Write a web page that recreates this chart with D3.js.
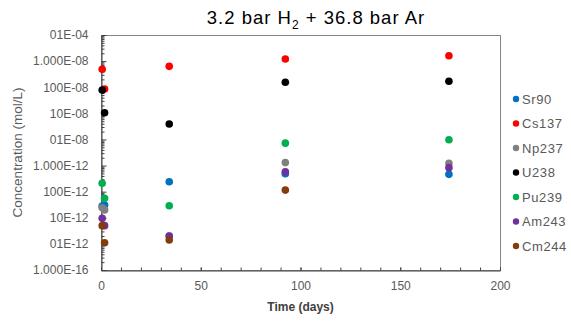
<!DOCTYPE html>
<html>
<head>
<meta charset="utf-8">
<script src="https://cdn.jsdelivr.net/npm/d3@7"></script>
<style>
  body { margin: 0; background: #fff; }
  text { font-family: "Liberation Sans", Arial, sans-serif; }
</style>
</head>
<body>
<div id="chart"></div>
<script>
// sampling days
const days = [0.6, 1.8, 34.2, 92.4, 174.4];

// concentrations (mol/L), null = no point
const sr90  = [2.8e-11, 3.1e-11, 2.4e-10, 4.9e-10, 4.6e-10];
const cs137 = [4.9e-6, 8.5e-7, 6.3e-6, 1.2e-5, 1.6e-5];
const np237 = [2.4e-11, 2.0e-11, 2.0e-12, 1.3e-9, 1.23e-9];
const u238  = [7.8e-7, 1.05e-7, 3.9e-8, 1.55e-6, 1.7e-6];
const pu239 = [2.1e-10, 5.6e-11, 2.9e-11, 7.2e-9, 9.7e-9];
const am243 = [9.5e-12, 5.0e-12, 2.0e-12, 5.8e-10, 8.3e-10];
const cm244 = [5.0e-12, 1.1e-12, 1.4e-12, 1.15e-10, null];

const seriesNames = ["Sr90", "Cs137", "Np237", "U238", "Pu239", "Am243", "Cm244"];
const seriesValues = [sr90, cs137, np237, u238, pu239, am243, cm244];
const seriesColors = ["#0070C0", "#FF0000", "#808080", "#000000", "#00B050", "#7030A0", "#843C0C"];

const yTickValues = [1e-4, 1e-5, 1e-6, 1e-7, 1e-8, 1e-9, 1e-10, 1e-11, 1e-12, 1e-13];
const yTickLabels = ["01E-04", "1.000E-08", "100E-08", "10E-08", "01E-08",
                     "1.000E-12", "100E-12", "10E-12", "01E-12", "1.000E-16"];
const xTickValues = [0, 50, 100, 150, 200];

const W = 571, H = 324;
const plot = { left: 101, right: 500, top: 35, bottom: 270 };

const svg = d3.select("#chart").append("svg")
  .attr("width", W)
  .attr("height", H);

const x = d3.scaleLinear().domain([0, 200]).range([plot.left, plot.right]);
const y = d3.scaleLog().domain([1e-13, 1e-4]).range([plot.bottom, plot.top]);

// plot frame
svg.append("rect")
  .attr("x", plot.left + 0.5)
  .attr("y", plot.top + 0.5)
  .attr("width", plot.right - plot.left)
  .attr("height", plot.bottom - plot.top)
  .attr("fill", "none")
  .attr("stroke", "#868686");

// minor ticks on y (log 2..9)
const yMinor = [];
for (let e = -13; e < -4; e++) {
  for (let m = 2; m <= 9; m++) yMinor.push(m * Math.pow(10, e));
}
svg.append("g")
  .attr("transform", `translate(${plot.left + 0.5},0)`)
  .call(d3.axisLeft(y).tickValues(yMinor).tickSize(-3).tickFormat(""))
  .call(g => g.select(".domain").remove())
  .call(g => g.selectAll("line").attr("stroke", "#404040"));

// y axis
svg.append("g")
  .attr("transform", `translate(${plot.left + 0.5},0)`)
  .call(d3.axisLeft(y).tickValues(yTickValues).tickSizeInner(-5).tickSizeOuter(0)
    .tickPadding(13).tickFormat((d, i) => yTickLabels[i]))
  .call(g => g.select(".domain").attr("stroke", "#404040"))
  .call(g => g.selectAll("line").attr("stroke", "#404040"))
  .call(g => g.selectAll("text").attr("fill", "#595959").style("font-size", "12px"));

// minor ticks on x
svg.append("g")
  .attr("transform", `translate(0,${plot.bottom + 0.5})`)
  .call(d3.axisBottom(x).tickValues(d3.range(0, 201, 10)).tickSize(-3).tickFormat(""))
  .call(g => g.select(".domain").remove())
  .call(g => g.selectAll("line").attr("stroke", "#404040"));

// x axis
svg.append("g")
  .attr("transform", `translate(0,${plot.bottom + 0.5})`)
  .call(d3.axisBottom(x).tickValues(xTickValues).tickSizeInner(-3).tickSizeOuter(0).tickPadding(11))
  .call(g => g.select(".domain").attr("stroke", "#404040"))
  .call(g => g.selectAll("line").attr("stroke", "#404040"))
  .call(g => g.selectAll("text").attr("fill", "#595959").style("font-size", "12px"));

// points, in legend order so later series sit on top
seriesValues.forEach((vals, si) => {
  const pts = days.map((d, i) => ({ day: d, v: vals[i] })).filter(p => p.v != null);
  svg.append("g").selectAll("circle")
    .data(pts)
    .enter()
    .append("circle")
    .attr("cx", d => x(d.day))
    .attr("cy", d => y(d.v))
    .attr("r", 3.8)
    .attr("fill", seriesColors[si]);
});

// legend
const legend = svg.append("g");
seriesNames.forEach((name, i) => {
  const ly = 99 + i * 24.5;
  legend.append("circle")
    .attr("cx", 516)
    .attr("cy", ly)
    .attr("r", 3.2)
    .attr("fill", seriesColors[i]);
  legend.append("text")
    .attr("x", 522)
    .attr("y", ly)
    .attr("dy", "0.36em")
    .attr("fill", "#595959")
    .style("font-size", "13px")
    .style("letter-spacing", "0.6px")
    .text(name);
});

// title
const title = svg.append("text")
  .attr("x", 316)
  .attr("y", 24)
  .attr("text-anchor", "middle")
  .attr("fill", "#000")
  .style("font-size", "18.5px")
  .style("letter-spacing", "1px");
title.append("tspan").text("3.2 bar H");
title.append("tspan").attr("dy", 5).style("font-size", "12px").text("2");
title.append("tspan").attr("dy", -5).text(" + 36.8 bar Ar");

// axis titles
svg.append("text")
  .attr("transform", `translate(22,${(plot.top + plot.bottom) / 2}) rotate(-90)`)
  .attr("text-anchor", "middle")
  .attr("fill", "#595959")
  .style("font-size", "13.5px")
  .text("Concentration (mol/L)");

svg.append("text")
  .attr("x", (plot.left + plot.right) / 2)
  .attr("y", 311)
  .attr("text-anchor", "middle")
  .attr("fill", "#404040")
  .style("font-size", "12px")
  .style("font-weight", "bold")
  .text("Time (days)");
</script>
</body>
</html>
